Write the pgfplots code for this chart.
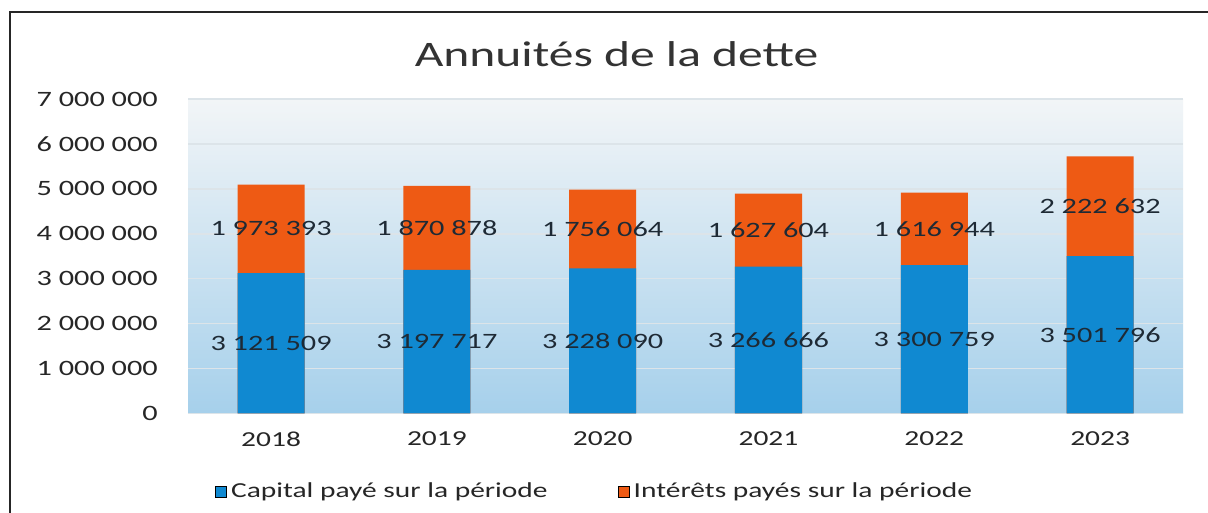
\documentclass[border=0pt]{standalone}
\usepackage{pgfplots}
\pgfplotsset{compat=1.18}
\usepackage{fontspec}
\setmainfont{Carlito}[FakeStretch=1.38]
\definecolor{capblue}{HTML}{1089D1}
\definecolor{intorange}{HTML}{EE5A14}
\definecolor{labtext}{HTML}{1E2A35}
\definecolor{ticktext}{HTML}{262626}
\definecolor{bgtop}{HTML}{F2F5F7}
\definecolor{bgmid}{HTML}{C8E2F3}
\definecolor{bgbot}{HTML}{A6D0EB}
\definecolor{gridc}{HTML}{DCE4E9}
\begin{document}
\begin{tikzpicture}[x=1bp,y=1bp]
\useasboundingbox (0,0) rectangle (603.5,256);
\fill[white] (-1,-1) rectangle (605,257);
\draw[line width=1.2pt, black!85] (5,-2) -- (5,250) -- (606,250);
\node[font=\fontsize{18}{21}\selectfont, text=black!80] at (308,229) {Annuités de la dette};
\begin{axis}[
  at={(94bp,49.5bp)}, anchor=south west,
  scale only axis, width=497bp, height=157bp,
  xmin=-0.5, xmax=5.5, ymin=0, ymax=7000000,
  axis line style={draw=none},
  axis background/.style={top color=bgtop, middle color=bgmid, bottom color=bgbot},
  ytick={0,1000000,2000000,3000000,4000000,5000000,6000000,7000000},
  xtick={0,1,2,3,4,5},
  xticklabels={2018,2019,2020,2021,2022,2023},
  scaled y ticks=false,
  major tick length=0pt,
  ymajorgrids,
  major grid style={draw=gridc, line width=0.8pt},
  yticklabel style={/pgf/number format/.cd, fixed, 1000 sep={\ }, assume math mode=true, /tikz/.cd, font=\fontsize{11}{12}\selectfont, text=ticktext, inner sep=0pt, anchor=east, xshift=-15bp},
  xticklabel style={font=\fontsize{10.7}{12}\selectfont, text=ticktext, inner sep=0pt, anchor=north, yshift=-9bp},
  legend style={at={(0.4095,-0.25)}, anchor=center, draw=none, fill=none, font=\fontsize{10.7}{12}\selectfont, text=ticktext, legend columns=2, /tikz/every even column/.append style={column sep=33bp}},
  legend image code/.code={\fill[#1] (0bp,-2.8bp) rectangle (5.6bp,2.8bp);},
  clip=false,
]
\addlegendimage{fill=capblue}
\addlegendentry{Capital payé sur la période}
\addlegendimage{fill=intorange}
\addlegendentry{Intérêts payés sur la période}
% total (capital + interest) bars, orange
\addplot[ybar, bar width=33.5bp, bar shift=0pt, fill=intorange, draw=none, forget plot] coordinates {
(0,5094902) (1,5068595) (2,4984154) (3,4894270) (4,4917703) (5,5724428)};
% capital bars, blue
\addplot[ybar, bar width=33.5bp, bar shift=0pt, fill=capblue, draw=none, forget plot] coordinates {
(0,3121509) (1,3197717) (2,3228090) (3,3266666) (4,3300759) (5,3501796)};
% labels
\addplot[ybar, bar width=33.5bp, bar shift=0pt, draw=none, fill=none, forget plot,
  nodes near coords, point meta=explicit symbolic,
  nodes near coords style={anchor=center, font=\fontsize{11}{12}\selectfont, text=labtext}]
  table[col sep=comma, x=x, y=y, meta=lab] {
x,y,lab
0,1560754.5,3 121 509
1,1598858.5,3 197 717
2,1614045,3 228 090
3,1633333,3 266 666
4,1650379.5,3 300 759
5,1750898,3 501 796
};
\addplot[ybar, bar width=33.5bp, bar shift=0pt, draw=none, fill=none, forget plot,
  nodes near coords, point meta=explicit symbolic,
  nodes near coords style={anchor=center, font=\fontsize{11}{12}\selectfont, text=labtext}]
  table[col sep=comma, x=x, y=y, meta=lab] {
x,y,lab
0,4108205.5,1 973 393
1,4133156,1 870 878
2,4106122,1 756 064
3,4080468,1 627 604
4,4109231,1 616 944
5,4613112,2 222 632
};
\end{axis}
\end{tikzpicture}
\end{document}
